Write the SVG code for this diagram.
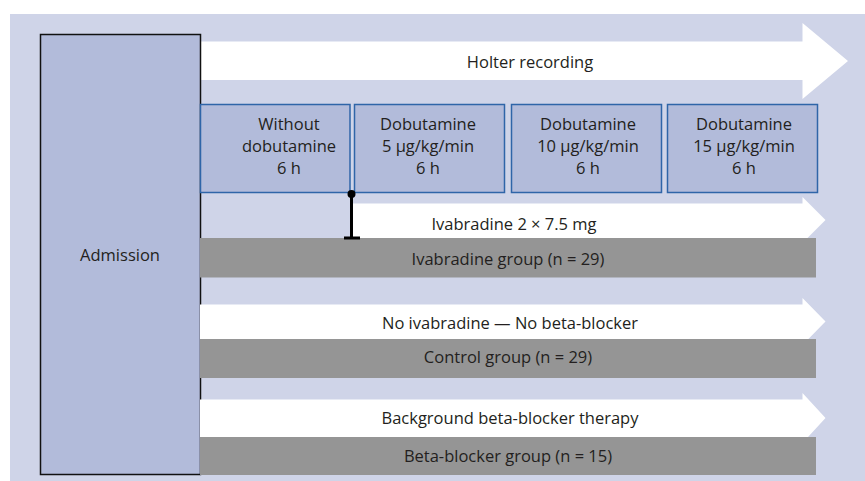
<svg xmlns="http://www.w3.org/2000/svg" width="865" height="481" viewBox="0 0 865 481">
<style>
.t{font-family:"Open Sans","Noto Sans","Liberation Sans",sans-serif;font-size:16.5px;fill:#231f20;text-anchor:middle}
.dose{fill:#b2bbda;stroke:#2f65a8;stroke-width:1.5}
.arr{fill:#ffffff}
.grp{fill:#959595}
</style>
<rect x="10" y="14" width="855" height="467" fill="#cfd4e8"/>
<g id="holter">
<polygon class="arr" points="200,41.5 802.5,41.5 802.5,23 848,61 802.5,99 802.5,80 200,80"/>
<text class="t" x="530" y="68">Holter recording</text>
</g>
<g id="admission">
<rect x="40.5" y="34.5" width="160" height="440" fill="#b2bbda" stroke="#111" stroke-width="1.5"/>
<text class="t" x="120" y="261">Admission</text>
</g>
<g id="dose0">
<rect class="dose" x="200.5" y="104.5" width="149.5" height="88"/>
<text class="t" x="289" y="130">Without</text>
<text class="t" x="289" y="152">dobutamine</text>
<text class="t" x="289" y="174">6 h</text>
</g>
<g id="dose5">
<rect class="dose" x="354.5" y="104.5" width="150" height="88"/>
<text class="t" x="428" y="130">Dobutamine</text>
<text class="t" x="428" y="152">5 μg/kg/min</text>
<text class="t" x="428" y="174">6 h</text>
</g>
<g id="dose10">
<rect class="dose" x="511.5" y="104.5" width="150" height="88"/>
<text class="t" x="588" y="130">Dobutamine</text>
<text class="t" x="588" y="152">10 μg/kg/min</text>
<text class="t" x="588" y="174">6 h</text>
</g>
<g id="dose15">
<rect class="dose" x="667.5" y="104.5" width="150" height="88"/>
<text class="t" x="744" y="130">Dobutamine</text>
<text class="t" x="744" y="152">15 μg/kg/min</text>
<text class="t" x="744" y="174">6 h</text>
</g>
<g id="ivabradine">
<polygon class="arr" points="353,203.5 802.5,203.5 802.5,197 825.5,220 802.5,243 802.5,238 353,238"/>
<text class="t" x="514" y="230">Ivabradine 2 × 7.5 mg</text>
<rect class="grp" x="200" y="238" width="616" height="39.5"/>
<text class="t" x="508" y="265">Ivabradine group (n = 29)</text>
</g>
<g id="control">
<polygon class="arr" points="200,304.5 802.5,304.5 802.5,298 825.5,321.5 802.5,345 802.5,339 200,339"/>
<text class="t" x="510" y="329">No ivabradine — No beta-blocker</text>
<rect class="grp" x="200" y="339" width="616" height="39"/>
<text class="t" x="508" y="363">Control group (n = 29)</text>
</g>
<g id="betablocker">
<polygon class="arr" points="200,399.5 802.5,399.5 802.5,393 825.5,418 802.5,443 802.5,437 200,437"/>
<text class="t" x="510" y="424">Background beta-blocker therapy</text>
<rect class="grp" x="200" y="437" width="616" height="38"/>
<text class="t" x="508" y="462">Beta-blocker group (n = 15)</text>
</g>
<g id="connectors">
<line x1="351.5" y1="194" x2="351.5" y2="238" stroke="#000" stroke-width="3"/>
<line x1="344" y1="238" x2="360" y2="238" stroke="#000" stroke-width="3"/>
<circle cx="351.5" cy="194" r="4" fill="#000"/>
</g>
</svg>
